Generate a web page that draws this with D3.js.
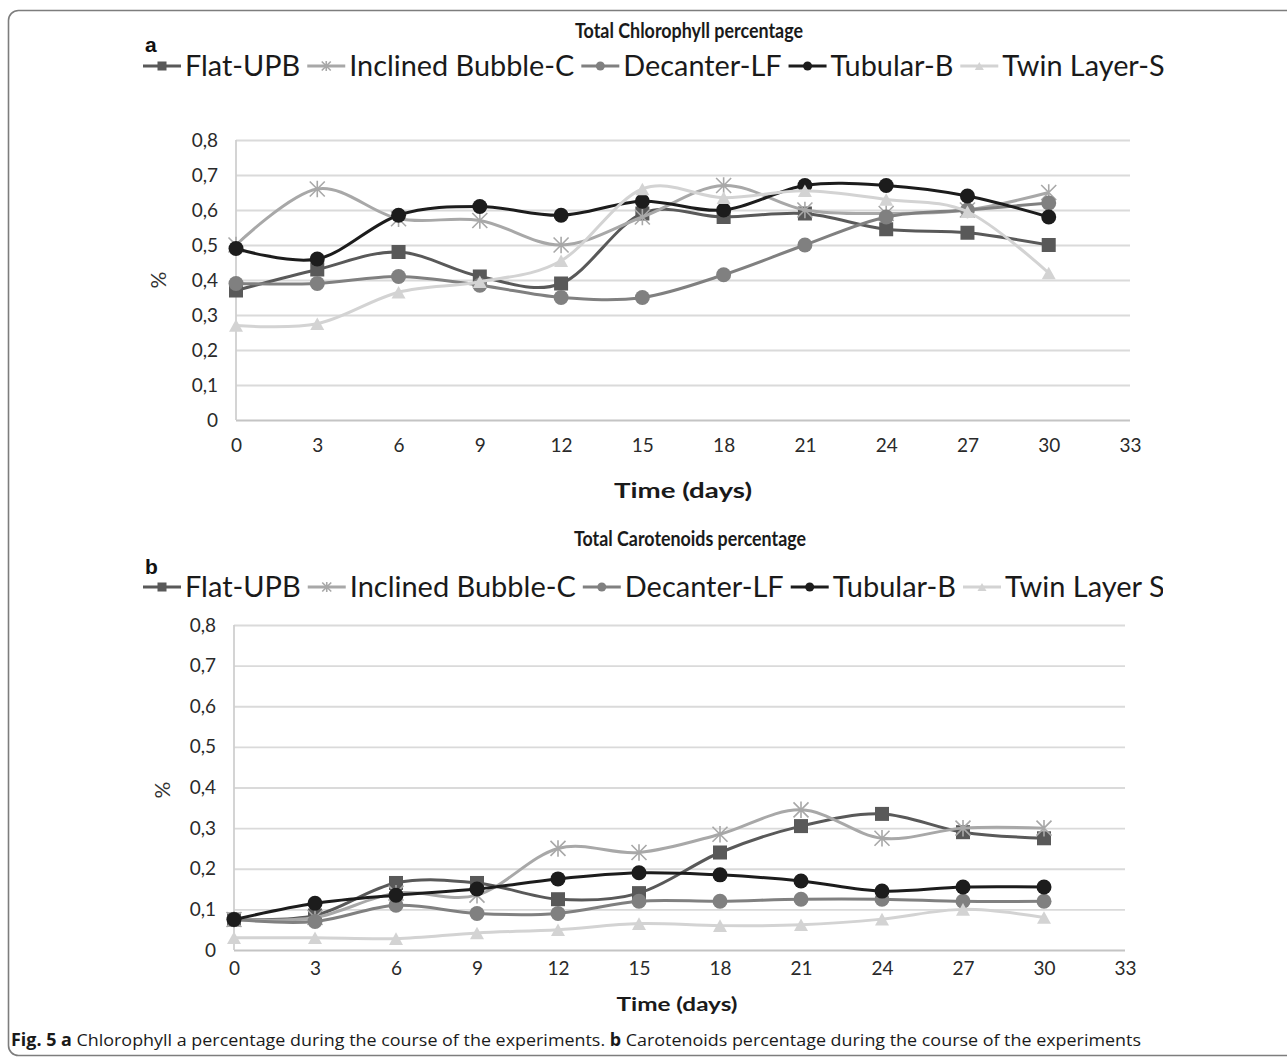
<!DOCTYPE html>
<html>
<head>
<meta charset="utf-8">
<script src="https://cdn.jsdelivr.net/npm/d3@7"></script>
<style>
  body { margin: 0; background: #fff; }
  svg { display: block; }
</style>
</head>
<body>
<svg id="fig" width="1287" height="1061"></svg>
<script>
// Data
const days = [0, 3, 6, 9, 12, 15, 18, 21, 24, 27, 30];
const xTicks = [0, 3, 6, 9, 12, 15, 18, 21, 24, 27, 30, 33];
const yTicks = [0, 0.1, 0.2, 0.3, 0.4, 0.5, 0.6, 0.7, 0.8];

const namesA = ["Flat-UPB", "Inclined Bubble-C", "Decanter-LF", "Tubular-B", "Twin Layer-S"];
const namesB = ["Flat-UPB", "Inclined Bubble-C", "Decanter-LF", "Tubular-B", "Twin Layer S"];

// Total chlorophyll (%)
const chlFlat = [0.37, 0.43, 0.48, 0.41, 0.39, 0.59, 0.58, 0.59, 0.545, 0.535, 0.50];
const chlIncl = [0.50, 0.66, 0.575, 0.57, 0.50, 0.58, 0.67, 0.60, 0.59, 0.60, 0.65];
const chlDec  = [0.39, 0.39, 0.41, 0.385, 0.35, 0.35, 0.415, 0.50, 0.58, 0.60, 0.62];
const chlTub  = [0.49, 0.46, 0.585, 0.61, 0.585, 0.625, 0.60, 0.67, 0.67, 0.64, 0.58];
const chlTwin = [0.27, 0.275, 0.365, 0.395, 0.455, 0.66, 0.635, 0.655, 0.63, 0.595, 0.42];

// Total carotenoids (%)
const carFlat = [0.075, 0.085, 0.165, 0.165, 0.125, 0.14, 0.24, 0.305, 0.335, 0.29, 0.275];
const carIncl = [0.075, 0.08, 0.14, 0.135, 0.25, 0.24, 0.285, 0.345, 0.275, 0.30, 0.30];
const carDec  = [0.075, 0.07, 0.11, 0.09, 0.09, 0.12, 0.12, 0.125, 0.125, 0.12, 0.12];
const carTub  = [0.075, 0.115, 0.135, 0.15, 0.175, 0.19, 0.185, 0.17, 0.145, 0.155, 0.155];
const carTwin = [0.03, 0.03, 0.028, 0.042, 0.05, 0.065, 0.06, 0.062, 0.076, 0.10, 0.08];

const colors = ["#595959", "#a8a8a8", "#808080", "#1c1c1c", "#d3d3d3"];
const markers = ["square", "asterisk", "circle", "circle", "triangle"];
const FONT = "Lato, 'Open Sans', sans-serif";

const svg = d3.select("#fig");

// outer frame
svg.append("rect")
  .attr("x", 8.5).attr("y", 10.5)
  .attr("width", 1300).attr("height", 1045)
  .attr("rx", 10)
  .attr("fill", "none")
  .attr("stroke", "#7d7d7d")
  .attr("stroke-width", 1.6);

// squeeze a text horizontally to a given width (the source font is narrow)
function squeeze(sel, target) {
  sel.attr("textLength", target).attr("lengthAdjust", "spacingAndGlyphs");
}

function drawMarker(g, type, cx, cy, s, color) {
  if (type === "square") {
    g.append("rect").attr("x", cx - s / 2).attr("y", cy - s / 2)
      .attr("width", s).attr("height", s).attr("fill", color);
  } else if (type === "circle") {
    g.append("circle").attr("cx", cx).attr("cy", cy).attr("r", s / 2).attr("fill", color);
  } else if (type === "triangle") {
    const h = s * 0.9;
    g.append("path")
      .attr("d", `M${cx},${cy - h / 2}L${cx + s / 2},${cy + h / 2}L${cx - s / 2},${cy + h / 2}Z`)
      .attr("fill", color);
  } else if (type === "asterisk") {
    const r = s / 2;
    g.append("path")
      .attr("d", `M${cx - r},${cy - r}L${cx + r},${cy + r}M${cx - r},${cy + r}L${cx + r},${cy - r}M${cx},${cy - r * 1.1}L${cx},${cy + r * 1.1}`)
      .attr("stroke", color).attr("stroke-width", 1.6).attr("fill", "none");
  }
}

function drawLegend(names, cy, left, right, clipRight) {
  const g = svg.append("g");
  if (clipRight) {
    const id = "clip" + Math.round(cy);
    svg.append("clipPath").attr("id", id).append("rect")
      .attr("x", 0).attr("y", cy - 30).attr("width", clipRight).attr("height", 60);
    g.attr("clip-path", `url(#${id})`);
  }
  const seg = 38, pad = 4, gap = 7;
  // pick the font size that lets the row span left..right
  const probe = g.selectAll("text.p").data(names).join("text")
    .attr("font-family", FONT).attr("font-size", 20).text(d => d);
  const textW = d3.sum(probe.nodes(), n => n.getComputedTextLength());
  probe.remove();
  const fixed = names.length * (seg + pad) + (names.length - 1) * gap;
  const fs = 20 * (right - left - fixed) / textW;

  let xpos = left;
  names.forEach((name, i) => {
    g.append("line")
      .attr("x1", xpos).attr("x2", xpos + seg)
      .attr("y1", cy).attr("y2", cy)
      .attr("stroke", colors[i]).attr("stroke-width", 3);
    drawMarker(g, markers[i], xpos + seg / 2, cy, 9, colors[i]);
    const t = g.append("text")
      .attr("x", xpos + seg + pad).attr("y", cy)
      .attr("dy", "0.35em")
      .attr("font-family", FONT).attr("font-size", fs)
      .attr("fill", "#1a1a1a")
      .text(name);
    xpos += seg + pad + t.node().getComputedTextLength() + gap;
  });
}

function drawPanel(cfg) {
  const x = d3.scaleLinear().domain([0, 33]).range([cfg.x0, cfg.x1]);
  const y = d3.scaleLinear().domain([0, 0.8]).range([cfg.y0, cfg.y1]);
  const fmt = d => d === 0 ? "0" : d3.format(".1f")(d).replace(".", ",");

  // panel letter
  svg.append("text")
    .attr("x", 145).attr("y", cfg.letterY)
    .attr("font-family", "'Liberation Sans', Arial, sans-serif")
    .attr("font-weight", "bold").attr("font-size", 21)
    .attr("fill", "#111")
    .text(cfg.letter);

  // title
  const title = svg.append("text")
    .attr("x", cfg.titleX - cfg.titleW / 2).attr("y", cfg.titleY)
    .attr("font-family", FONT).attr("font-weight", "bold")
    .attr("font-size", 21).attr("fill", "#1a1a1a")
    .text(cfg.title);
  squeeze(title, cfg.titleW);

  drawLegend(cfg.names, cfg.legendY, 143, 1165, cfg.legendClip);

  // y gridlines and labels
  const ya = svg.append("g")
    .attr("transform", `translate(${cfg.x0},0)`)
    .call(d3.axisLeft(y).tickValues(yTicks).tickSize(-(cfg.x1 - cfg.x0)).tickPadding(18).tickFormat(fmt));
  ya.select(".domain").remove();
  ya.selectAll(".tick line")
    .attr("stroke", d => d === 0 ? "#c4c4c4" : "#dadada")
    .attr("stroke-width", d => d === 0 ? 2.2 : 1.8);
  ya.selectAll(".tick text")
    .attr("font-family", FONT).attr("font-size", cfg.tickSize).attr("fill", "#2a2a2a");

  // vertical axis line
  svg.append("line")
    .attr("x1", cfg.x0).attr("x2", cfg.x0)
    .attr("y1", y(0)).attr("y2", y(0.8))
    .attr("stroke", "#d0d0d0").attr("stroke-width", 1.8);

  // x labels
  const xa = svg.append("g")
    .attr("transform", `translate(0,${cfg.y0})`)
    .call(d3.axisBottom(x).tickValues(xTicks).tickSize(0).tickPadding(cfg.xPad));
  xa.select(".domain").remove();
  xa.selectAll(".tick text")
    .attr("font-family", FONT).attr("font-size", cfg.tickSize).attr("fill", "#2a2a2a");

  // axis titles
  svg.append("text")
    .attr("transform", `translate(${cfg.pctX},${cfg.pctY}) rotate(-90)`)
    .attr("text-anchor", "middle").attr("dy", "0.35em")
    .attr("font-family", FONT).attr("font-size", 21).attr("fill", "#333")
    .text("%");

  const xt = svg.append("text")
    .attr("x", cfg.xTitleX - cfg.xTitleW / 2).attr("y", cfg.xTitleY)
    .attr("font-family", FONT).attr("font-weight", "bold")
    .attr("font-size", cfg.xTitleSize).attr("fill", "#1a1a1a")
    .text("Time (days)");
  squeeze(xt, cfg.xTitleW);

  // series
  const line = d3.line()
    .x((d, i) => x(days[i]))
    .y(d => y(d))
    .curve(d3.curveCardinal.tension(0));

  cfg.series.forEach((vals, si) => {
    const g = svg.append("g");
    g.append("path")
      .attr("d", line(vals))
      .attr("fill", "none")
      .attr("stroke", colors[si])
      .attr("stroke-width", 3);
    vals.forEach((v, i) => {
      drawMarker(g, markers[si], x(days[i]), y(v), cfg.markSize[si], colors[si]);
    });
  });
}

drawPanel({
  letter: "a", letterY: 52,
  title: "Total Chlorophyll percentage", titleX: 689, titleY: 38, titleW: 228,
  names: namesA, legendY: 66, legendClip: null,
  x0: 236, x1: 1130, y0: 420, y1: 140,
  tickSize: 19, xPad: 19,
  pctX: 159, pctY: 280,
  xTitleX: 683, xTitleY: 498, xTitleW: 138, xTitleSize: 21,
  series: [chlFlat, chlIncl, chlDec, chlTub, chlTwin],
  markSize: [14, 15, 15, 15, 14]
});

drawPanel({
  letter: "b", letterY: 574,
  title: "Total Carotenoids percentage", titleX: 690, titleY: 546, titleW: 232,
  names: namesB, legendY: 587, legendClip: 1163,
  x0: 234, x1: 1125, y0: 950, y1: 625,
  tickSize: 19, xPad: 12,
  pctX: 163, pctY: 790,
  xTitleX: 677, xTitleY: 1011, xTitleW: 121, xTitleSize: 19,
  series: [carFlat, carIncl, carDec, carTub, carTwin],
  markSize: [14, 15, 15, 15, 14]
});

// caption
const cap = svg.append("text")
  .attr("x", 11).attr("y", 1046)
  .attr("font-family", "'Open Sans', Roboto, sans-serif")
  .attr("font-size", 17).attr("fill", "#1a1a1a");
cap.append("tspan").attr("font-weight", "bold").text("Fig. 5  a");
cap.append("tspan").text(" Chlorophyll a percentage during the course of the experiments. ");
cap.append("tspan").attr("font-weight", "bold").text("b");
cap.append("tspan").text(" Carotenoids percentage during the course of the experiments");
squeeze(cap, 1130);
</script>
</body>
</html>
